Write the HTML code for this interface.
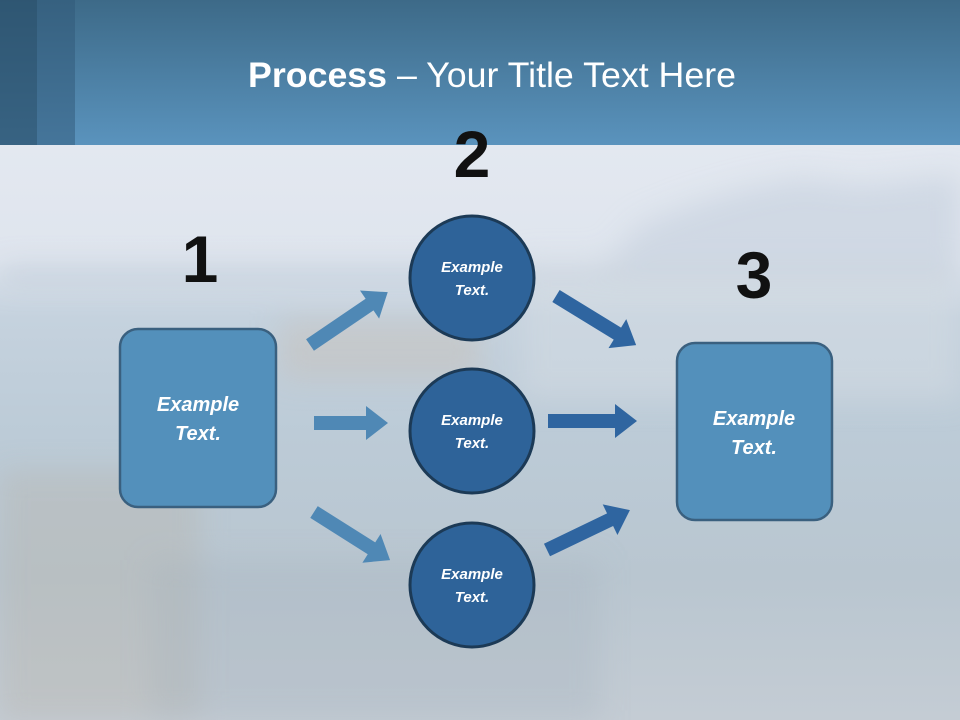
<!DOCTYPE html>
<html><head><meta charset="utf-8"><style>
html,body{margin:0;padding:0;width:960px;height:720px;overflow:hidden}
</style></head><body>
<svg width="960" height="720" viewBox="0 0 960 720" xmlns="http://www.w3.org/2000/svg" font-family="'Liberation Sans',sans-serif">
<defs>
<linearGradient id="hdr" x1="0" y1="0" x2="0" y2="1"><stop offset="0" stop-color="#3d6a88"/><stop offset="1" stop-color="#5a93bd"/></linearGradient>
<linearGradient id="bg" x1="0" y1="0" x2="0" y2="1">
<stop offset="0" stop-color="#e3e8f0"/><stop offset="0.2" stop-color="#dfe5ee"/><stop offset="0.3" stop-color="#c5d2de"/>
<stop offset="0.5" stop-color="#bccbd7"/><stop offset="0.75" stop-color="#b9c6d0"/><stop offset="1" stop-color="#c4ccd4"/></linearGradient>
<filter id="bl" x="-20%" y="-20%" width="140%" height="140%"><feGaussianBlur stdDeviation="14"/></filter>
</defs>
<rect x="0" y="145" width="960" height="575" fill="url(#bg)"/>
<g filter="url(#bl)">
<path d="M600 270 L640 225 L690 205 L740 190 L800 178 L860 185 L960 175 L960 280 L600 280Z" fill="#c9d3df" opacity="0.7"/>
<rect x="0" y="268" width="960" height="12" fill="#aebdcc" opacity="0.6"/>
<rect x="520" y="260" width="440" height="140" fill="#d4dce4" opacity="0.5"/>
<rect x="280" y="320" width="200" height="60" fill="#c8b9ad" opacity="0.35"/>
<rect x="0" y="470" width="200" height="250" fill="#b5aea3" opacity="0.3"/>
<rect x="150" y="560" width="450" height="160" fill="#a9b4bf" opacity="0.35"/>
</g>
<rect x="0" y="0" width="960" height="145" fill="url(#hdr)"/>
<rect x="0" y="0" width="37" height="145" fill="#2a4e6a" opacity="0.7"/>
<rect x="37" y="0" width="38" height="145" fill="#2f5878" opacity="0.5"/>
<text x="492" y="87" text-anchor="middle" fill="#fff" font-size="35" textLength="488" lengthAdjust="spacingAndGlyphs"><tspan font-weight="bold">Process</tspan> – Your Title Text Here</text>
<g font-weight="bold" fill="#111" text-anchor="middle" font-size="66">
<text x="200" y="282">1</text><text x="472" y="177">2</text><text x="754" y="298">3</text></g>
<g fill="#4f88b5">
<polygon transform="translate(310,345) rotate(-34.2)" points="0,-7 72,-7 72,-17 94,0 72,17 72,7 0,7"/>
<polygon transform="translate(314,423)" points="0,-7 52,-7 52,-17 74,0 52,17 52,7 0,7"/>
<polygon transform="translate(314,512) rotate(32.3)" points="0,-7 68,-7 68,-17 90,0 68,17 68,7 0,7"/>
</g>
<g fill="#2f65a0">
<polygon transform="translate(556,296) rotate(31.5)" points="0,-7 72,-7 72,-17 94,0 72,17 72,7 0,7"/>
<polygon transform="translate(548,421)" points="0,-7 67,-7 67,-17 89,0 67,17 67,7 0,7"/>
<polygon transform="translate(547,550) rotate(-25.7)" points="0,-7 70,-7 70,-17 92,0 70,17 70,7 0,7"/>
</g>
<rect x="120" y="329" width="156" height="178" rx="18" fill="#5390bb" stroke="#3a607f" stroke-width="2.5"/>
<rect x="677" y="343" width="155" height="177" rx="18" fill="#5390bb" stroke="#3a607f" stroke-width="2.5"/>
<g fill="#2e6399" stroke="#1c3a56" stroke-width="3">
<circle cx="472" cy="278" r="62"/><circle cx="472" cy="431" r="62"/><circle cx="472" cy="585" r="62"/></g>
<g fill="#fff" font-weight="bold" font-style="italic" text-anchor="middle">
<g font-size="20"><text x="198" y="411">Example</text><text x="198" y="440">Text.</text>
<text x="754" y="425">Example</text><text x="754" y="454">Text.</text></g>
<g font-size="15"><text x="472" y="272">Example</text><text x="472" y="295">Text.</text>
<text x="472" y="425">Example</text><text x="472" y="448">Text.</text>
<text x="472" y="579">Example</text><text x="472" y="602">Text.</text></g>
</g>
</svg>
</body></html>
